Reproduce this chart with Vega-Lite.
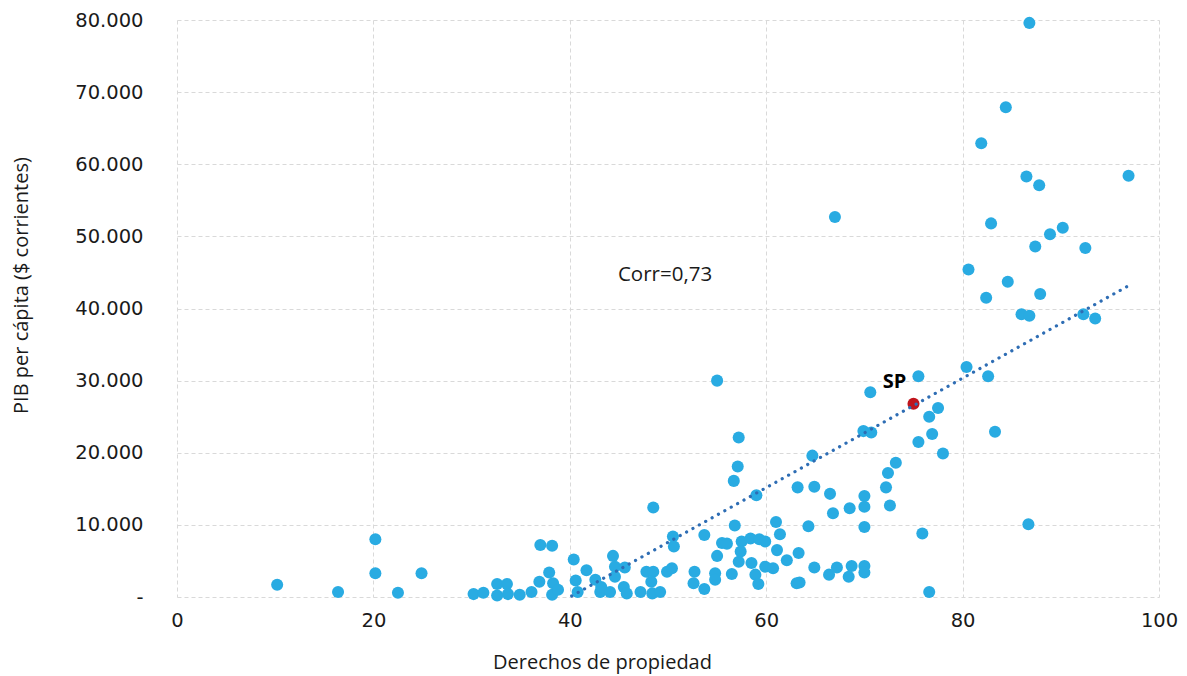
{
  "$schema": "https://vega.github.io/schema/vega-lite/v6.json",
  "width": 982,
  "height": 577,
  "autosize": {"type": "none"},
  "padding": {"left": 177, "top": 20, "right": 28, "bottom": 79},
  "background": "white",
  "config": {
    "view": {"stroke": null},
    "axis": {
      "grid": true,
      "gridColor": "#d9d9d9",
      "gridDash": [4, 3],
      "gridWidth": 1,
      "domain": false,
      "ticks": false,
      "labelFont": "DejaVu Sans",
      "labelFontSize": 19.5,
      "labelColor": "#1a1a1a",
      "titleFont": "Open Sans",
      "titleFontSize": 20,
      "titleFontWeight": "normal",
      "titleColor": "#1a1a1a"
    }
  },
  "datasets": {
    "pts": [
      {"x": 10.2, "y": 1700, "label": ""},
      {"x": 16.4, "y": 700, "label": ""},
      {"x": 20.2, "y": 8000, "label": ""},
      {"x": 20.2, "y": 3300, "label": ""},
      {"x": 22.5, "y": 600, "label": ""},
      {"x": 24.9, "y": 3300, "label": ""},
      {"x": 30.2, "y": 400, "label": ""},
      {"x": 31.2, "y": 600, "label": ""},
      {"x": 32.6, "y": 1800, "label": ""},
      {"x": 33.6, "y": 1800, "label": ""},
      {"x": 32.6, "y": 200, "label": ""},
      {"x": 33.7, "y": 400, "label": ""},
      {"x": 34.9, "y": 300, "label": ""},
      {"x": 36.1, "y": 700, "label": ""},
      {"x": 36.9, "y": 2100, "label": ""},
      {"x": 37.0, "y": 7200, "label": ""},
      {"x": 38.2, "y": 7100, "label": ""},
      {"x": 37.9, "y": 3400, "label": ""},
      {"x": 38.3, "y": 1900, "label": ""},
      {"x": 38.2, "y": 300, "label": ""},
      {"x": 38.8, "y": 1000, "label": ""},
      {"x": 40.6, "y": 2300, "label": ""},
      {"x": 40.4, "y": 5200, "label": ""},
      {"x": 40.8, "y": 700, "label": ""},
      {"x": 41.7, "y": 3700, "label": ""},
      {"x": 42.6, "y": 2400, "label": ""},
      {"x": 43.1, "y": 700, "label": ""},
      {"x": 43.2, "y": 1400, "label": ""},
      {"x": 44.1, "y": 700, "label": ""},
      {"x": 44.4, "y": 5700, "label": ""},
      {"x": 44.6, "y": 4200, "label": ""},
      {"x": 44.6, "y": 2800, "label": ""},
      {"x": 45.6, "y": 4100, "label": ""},
      {"x": 45.5, "y": 1400, "label": ""},
      {"x": 45.8, "y": 500, "label": ""},
      {"x": 47.2, "y": 700, "label": ""},
      {"x": 47.8, "y": 3500, "label": ""},
      {"x": 48.5, "y": 3500, "label": ""},
      {"x": 48.3, "y": 2100, "label": ""},
      {"x": 48.4, "y": 500, "label": ""},
      {"x": 49.2, "y": 700, "label": ""},
      {"x": 49.9, "y": 3500, "label": ""},
      {"x": 50.4, "y": 4000, "label": ""},
      {"x": 50.5, "y": 8400, "label": ""},
      {"x": 50.6, "y": 7000, "label": ""},
      {"x": 48.5, "y": 12400, "label": ""},
      {"x": 52.7, "y": 3500, "label": ""},
      {"x": 52.6, "y": 1900, "label": ""},
      {"x": 53.7, "y": 1100, "label": ""},
      {"x": 53.7, "y": 8600, "label": ""},
      {"x": 54.8, "y": 3300, "label": ""},
      {"x": 54.8, "y": 2400, "label": ""},
      {"x": 55.0, "y": 5700, "label": ""},
      {"x": 55.5, "y": 7500, "label": ""},
      {"x": 56.0, "y": 7400, "label": ""},
      {"x": 56.5, "y": 3200, "label": ""},
      {"x": 56.8, "y": 9900, "label": ""},
      {"x": 57.2, "y": 4900, "label": ""},
      {"x": 57.2, "y": 22100, "label": ""},
      {"x": 57.1, "y": 18100, "label": ""},
      {"x": 56.7, "y": 16100, "label": ""},
      {"x": 55.0, "y": 30000, "label": ""},
      {"x": 57.5, "y": 7700, "label": ""},
      {"x": 57.4, "y": 6300, "label": ""},
      {"x": 58.4, "y": 8100, "label": ""},
      {"x": 59.3, "y": 8000, "label": ""},
      {"x": 59.9, "y": 7700, "label": ""},
      {"x": 58.5, "y": 4700, "label": ""},
      {"x": 58.9, "y": 3100, "label": ""},
      {"x": 59.2, "y": 1800, "label": ""},
      {"x": 59.0, "y": 14100, "label": ""},
      {"x": 59.9, "y": 4200, "label": ""},
      {"x": 60.7, "y": 4000, "label": ""},
      {"x": 61.1, "y": 6500, "label": ""},
      {"x": 61.0, "y": 10400, "label": ""},
      {"x": 61.4, "y": 8700, "label": ""},
      {"x": 62.1, "y": 5100, "label": ""},
      {"x": 63.3, "y": 6100, "label": ""},
      {"x": 63.1, "y": 1900, "label": ""},
      {"x": 63.4, "y": 2000, "label": ""},
      {"x": 63.2, "y": 15200, "label": ""},
      {"x": 64.3, "y": 9800, "label": ""},
      {"x": 64.9, "y": 15300, "label": ""},
      {"x": 64.7, "y": 19600, "label": ""},
      {"x": 64.9, "y": 4100, "label": ""},
      {"x": 66.4, "y": 3100, "label": ""},
      {"x": 67.2, "y": 4100, "label": ""},
      {"x": 66.5, "y": 14300, "label": ""},
      {"x": 66.8, "y": 11600, "label": ""},
      {"x": 68.5, "y": 12300, "label": ""},
      {"x": 68.7, "y": 4300, "label": ""},
      {"x": 68.4, "y": 2800, "label": ""},
      {"x": 70.0, "y": 14000, "label": ""},
      {"x": 70.0, "y": 12500, "label": ""},
      {"x": 70.0, "y": 9700, "label": ""},
      {"x": 70.0, "y": 4300, "label": ""},
      {"x": 70.0, "y": 3400, "label": ""},
      {"x": 69.9, "y": 23000, "label": ""},
      {"x": 70.7, "y": 22800, "label": ""},
      {"x": 70.6, "y": 28400, "label": ""},
      {"x": 72.2, "y": 15200, "label": ""},
      {"x": 72.4, "y": 17200, "label": ""},
      {"x": 73.2, "y": 18600, "label": ""},
      {"x": 72.6, "y": 12700, "label": ""},
      {"x": 75.9, "y": 8800, "label": ""},
      {"x": 76.6, "y": 700, "label": ""},
      {"x": 75.5, "y": 21500, "label": ""},
      {"x": 76.9, "y": 22600, "label": ""},
      {"x": 76.6, "y": 25000, "label": ""},
      {"x": 77.5, "y": 26200, "label": ""},
      {"x": 78.0, "y": 19900, "label": ""},
      {"x": 75.5, "y": 30600, "label": ""},
      {"x": 80.4, "y": 31900, "label": ""},
      {"x": 82.6, "y": 30600, "label": ""},
      {"x": 83.3, "y": 22900, "label": ""},
      {"x": 80.6, "y": 45400, "label": ""},
      {"x": 82.4, "y": 41500, "label": ""},
      {"x": 84.6, "y": 43700, "label": ""},
      {"x": 87.9, "y": 42000, "label": ""},
      {"x": 86.0, "y": 39200, "label": ""},
      {"x": 86.8, "y": 39000, "label": ""},
      {"x": 92.3, "y": 39200, "label": ""},
      {"x": 93.5, "y": 38600, "label": ""},
      {"x": 87.4, "y": 48600, "label": ""},
      {"x": 88.9, "y": 50300, "label": ""},
      {"x": 90.2, "y": 51200, "label": ""},
      {"x": 92.5, "y": 48400, "label": ""},
      {"x": 82.9, "y": 51800, "label": ""},
      {"x": 67.0, "y": 52700, "label": ""},
      {"x": 86.5, "y": 58300, "label": ""},
      {"x": 87.8, "y": 57100, "label": ""},
      {"x": 96.9, "y": 58400, "label": ""},
      {"x": 81.9, "y": 62900, "label": ""},
      {"x": 84.4, "y": 67900, "label": ""},
      {"x": 86.8, "y": 79600, "label": ""},
      {"x": 86.7, "y": 10100, "label": ""},
      {"x": 75.0, "y": 26800, "label": "SP"}
    ],
    "trend": [
      {"x": 40.2, "y": 140},
      {"x": 96.9, "y": 43160}
    ],
    "note": [
      {"x": 49.7, "y": 44600, "text": "Corr=0,73"}
    ]
  },
  "layer": [
    {
      "data": {"name": "pts"},
      "transform": [{"filter": "datum.label != 'SP'"}],
      "mark": {"type": "circle", "size": 145, "color": "#29abe2", "opacity": 1},
      "encoding": {
        "x": {
          "field": "x", "type": "quantitative",
          "scale": {"domain": [0, 100], "nice": false, "zero": false},
          "axis": {"values": [0, 20, 40, 60, 80, 100], "title": "Derechos de propiedad", "labelPadding": 14, "titleX": 425, "titleY": 55, "labelFlush": false}
        },
        "y": {
          "field": "y", "type": "quantitative",
          "scale": {"domain": [0, 80000], "nice": false},
          "axis": {
            "values": [0, 10000, 20000, 30000, 40000, 50000, 60000, 70000, 80000],
            "labelExpr": "datum.value == 0 ? '-' : replace(format(datum.value, ','), ',', '.')",
            "title": "PIB per cápita ($ corrientes)",
            "labelPadding": 34,
            "titleX": -146,
            "titleY": 265,
            "labelFlush": false
          }
        }
      }
    },
    {
      "data": {"name": "pts"},
      "transform": [{"filter": "datum.label == 'SP'"}],
      "mark": {"type": "circle", "size": 145, "color": "#c0141c", "opacity": 1},
      "encoding": {
        "x": {"field": "x", "type": "quantitative"},
        "y": {"field": "y", "type": "quantitative"}
      }
    },
    {
      "data": {"name": "pts"},
      "transform": [{"filter": "datum.label == 'SP'"}],
      "mark": {"type": "text", "font": "Open Sans", "fontSize": 20, "fontWeight": "bold", "color": "#000000", "dx": -19, "dy": -22},
      "encoding": {
        "x": {"field": "x", "type": "quantitative"},
        "y": {"field": "y", "type": "quantitative"},
        "text": {"field": "label"}
      }
    },
    {
      "data": {"name": "note"},
      "mark": {"type": "text", "font": "Open Sans", "fontSize": 20.5, "color": "#1a1a1a"},
      "encoding": {
        "x": {"field": "x", "type": "quantitative"},
        "y": {"field": "y", "type": "quantitative"},
        "text": {"field": "text"}
      }
    },
    {
      "data": {"name": "trend"},
      "mark": {"type": "line", "color": "#2e6db4", "strokeWidth": 3.2, "strokeCap": "round", "strokeDash": [0.1, 7.2]},
      "encoding": {
        "x": {"field": "x", "type": "quantitative"},
        "y": {"field": "y", "type": "quantitative"}
      }
    }
  ]
}
